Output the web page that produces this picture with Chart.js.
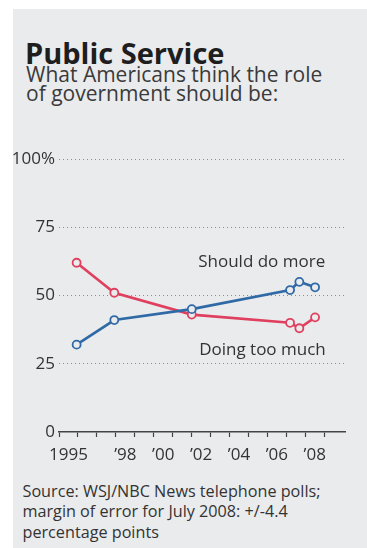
<!DOCTYPE html>
<html>
<head>
<meta charset="utf-8">
<script src="https://cdn.jsdelivr.net/npm/chart.js@4.4.1/dist/chart.umd.min.js"></script>
<style>
    body { margin: 0; width: 367px; height: 548px; background: #fff; position: relative; overflow: hidden; font-family: "Open Sans", sans-serif; }
    #panel { position: absolute; left: 13px; top: 9px; width: 354px; height: 539px; background: #eaebed; }
    h1 { position: absolute; left: 25px; top: 37.5px; margin: 0; font-size: 29px; line-height: 29px; font-weight: 700; color: #1e1e1e; white-space: nowrap; }
    .sub { position: absolute; left: 26px; top: 64.8px; margin: 0; font-size: 21px; line-height: 19.5px; color: #3a3a3a; white-space: nowrap; }
    .note { position: absolute; left: 22.5px; top: 480.5px; margin: 0; font-size: 16.2px; line-height: 20.5px; color: #333; white-space: nowrap; }
    #chartBox { position: absolute; left: 0; top: 140px; width: 367px; height: 340px; }
</style>
</head>
<body>
<div id="panel"></div>
<h1>Public Service</h1>
<p class="sub">What Americans think the role<br>of government should be:</p>
<div id="chartBox"><canvas id="lineChart"></canvas></div>
<p class="note">Source: WSJ/NBC News telephone polls;<br>margin of error for July 2008: +/-4.4<br>percentage points</p>

<script>
// poll dates (fractional years) and results, in percent
const pollDates = [1995.93, 1997.92, 2002.01, 2007.2, 2007.69, 2008.52];
const shouldDoMore = [32, 41, 45, 52, 55, 53];
const doingTooMuch = [62, 51, 43, 40, 38, 42];

const yearTicks = [1995, 1998, 2000, 2002, 2004, 2006, 2008];
const yearLabels = ['1995', '\u201998', '\u201900', '\u201902', '\u201904', '\u201906', '\u201908'];
const pctTicks = [0, 25, 50, 75, 100];
const pctLabels = ['0', '25', '50', '75', '100%'];

const seriesNames = ['Should do more', 'Doing too much'];
const seriesColors = ['#2f6aa6', '#e0405f'];

// where the series names sit, in data units (year, percent)
const nameSpots = [[2002.35, 60.4], [2002.4, 28.2]];

const panelGrey = '#eaebed';

function toPoints(values) {
    return values.map(function (v, i) { return { x: pollDates[i], y: v }; });
}

// writes the series names inside the plot
const seriesNamePlugin = {
    id: 'seriesNames',
    afterDatasetsDraw: function (chart) {
        const ctx = chart.ctx;
        const xs = chart.scales.x;
        const ys = chart.scales.y;
        ctx.save();
        ctx.font = '17px "Open Sans", sans-serif';
        ctx.fillStyle = '#333';
        ctx.textAlign = 'left';
        ctx.textBaseline = 'alphabetic';
        seriesNames.forEach(function (name, i) {
            ctx.fillText(name, xs.getPixelForValue(nameSpots[i][0]), ys.getPixelForValue(nameSpots[i][1]));
        });
        ctx.restore();
    }
};

const ctx = document.getElementById('lineChart');
new Chart(ctx, {
    type: 'line',
    data: {
        datasets: [{
            label: seriesNames[0],
            data: toPoints(shouldDoMore),
            borderColor: seriesColors[0],
            borderWidth: 2.6,
            pointRadius: 4,
            pointBorderWidth: 1.8,
            pointBackgroundColor: panelGrey,
            pointBorderColor: seriesColors[0],
            tension: 0
        }, {
            label: seriesNames[1],
            data: toPoints(doingTooMuch),
            borderColor: seriesColors[1],
            borderWidth: 2.6,
            pointRadius: 4,
            pointBorderWidth: 1.8,
            pointBackgroundColor: panelGrey,
            pointBorderColor: seriesColors[1],
            tension: 0
        }]
    },
    options: {
        responsive: true,
        maintainAspectRatio: false,
        animation: false,
        clip: false,
        layout: { padding: { left: 0, right: 22, top: 19, bottom: 18 } },
        plugins: {
            legend: { display: false },
            tooltip: { enabled: false }
        },
        scales: {
            x: {
                type: 'linear',
                min: 1995,
                max: 2010.1,
                afterFit: function (scale) { scale.height = 30; },
                afterBuildTicks: function (scale) {
                    scale.ticks = scale.ticks.filter(function (t) {
                        return Number.isInteger(t.value) && t.value <= 2009;
                    });
                },
                ticks: {
                    stepSize: 1,
                    autoSkip: false,
                    maxRotation: 0,
                    labelOffset: 9.5,
                    padding: 8,
                    color: '#333',
                    font: { family: '"Open Sans", sans-serif', size: 17 },
                    callback: function (value) {
                        const i = yearTicks.indexOf(value);
                        return i >= 0 ? yearLabels[i] : '';
                    }
                },
                grid: {
                    drawOnChartArea: false,
                    drawTicks: true,
                    tickLength: 5,
                    tickColor: '#444',
                    tickWidth: 1.2
                },
                border: { display: true, color: '#444', width: 1.5 }
            },
            y: {
                min: 0,
                max: 100,
                afterFit: function (scale) { scale.width = 59; },
                afterBuildTicks: function (scale) {
                    scale.ticks = pctTicks.map(function (v) { return { value: v }; });
                },
                ticks: {
                    padding: 4,
                    color: '#333',
                    font: { family: '"Open Sans", sans-serif', size: 17 },
                    callback: function (value) {
                        const i = pctTicks.indexOf(value);
                        return i >= 0 ? pctLabels[i] : '';
                    }
                },
                grid: {
                    drawTicks: false,
                    color: function (c) { return c.tick && c.tick.value === 0 ? 'rgba(0,0,0,0)' : '#8a8c90'; },
                    lineWidth: 1
                },
                border: { display: false, dash: [1, 3] }
            }
        }
    },
    plugins: [seriesNamePlugin]
});
</script>
</body>
</html>
